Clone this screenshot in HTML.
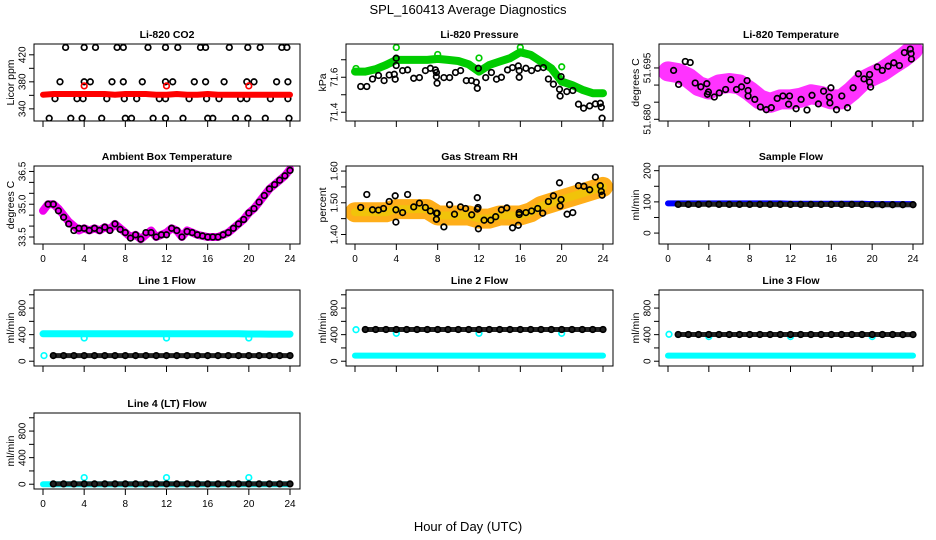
<!DOCTYPE html>
<html><head><meta charset="utf-8"><style>
html,body{margin:0;padding:0;background:#fff;}
svg{display:block;font-family:"Liberation Sans",sans-serif;}
</style></head><body>
<svg id="chart" width="936" height="540" viewBox="0 0 936 540" xmlns="http://www.w3.org/2000/svg">
<rect x="0" y="0" width="936" height="540" fill="#fff"/>
<text x="468" y="14" text-anchor="middle" font-size="13">SPL_160413  Average Diagnostics</text>
<text x="468" y="531" text-anchor="middle" font-size="13">Hour of Day (UTC)</text>
</svg>
<script>
// ---------- data ----------
const HOURS = [0,1,2,3,4,5,6,7,8,9,10,11,12,13,14,15,16,17,18,19,20,21,22,23,24];
const XTICKS = [0,4,8,12,16,20,24];

// CO2
const co2Red = [361,362,362,362,362,362,362,361,362,362,362,361,361,362,361,361,362,361,361,361,361,361,361,361,361];
const co2RedOutHours = [4,12,20];
const co2RedOutVals = [374,374,374];
const co2BlackHours = [2.2,4.0,5.1,7.2,7.8,10.2,11.9,13.1,15.3,15.8,18.1,19.9,21.1,23.2,23.7,
 1.65,4.0,4.6,6.7,7.8,9.65,11.9,12.6,14.7,15.8,17.6,19.8,20.5,22.7,23.8,
 1.17,3.3,3.9,6.2,7.9,9.1,11.3,11.9,14.2,15.9,17.1,19.2,19.8,22.1,23.8,
 0.6,2.7,3.8,5.7,8.0,8.6,10.7,11.9,13.6,16.0,16.5,18.7,19.9,21.6,23.9];
const co2BlackVals = [431,431,431,431,431,431,431,431,431,431,431,431,431,431,431,
 380,380,380,380,380,380,380,380,380,380,380,380,380,380,380,
 355,355,355,355,355,355,355,355,355,355,355,355,355,355,355,
 326,326,326,326,326,326,326,326,326,326,326,326,326,326,326];

// Pressure
const presGreen = [71.632,71.632,71.646,71.670,71.699,71.699,71.699,71.699,71.705,71.699,71.693,71.674,71.632,71.670,71.690,71.709,71.743,71.728,71.690,71.651,71.575,71.556,71.528,71.509,71.509];
const presGreenOutHours = [0.1,4,8,12,16,20,23.9];
const presGreenOutVals = [71.65,71.77,71.73,71.71,71.77,71.66,71.51];
const presBlackHours = [0.55,1.14,1.69,2.27,2.82,3.31,3.80,3.89,3.99,3.99,4.61,5.09,5.68,6.23,6.81,7.30,7.78,7.88,7.88,7.95,8.60,9.15,9.73,10.22,10.77,11.26,11.74,11.84,11.94,12.65,13.20,13.69,14.17,14.76,15.24,15.80,15.89,15.89,16.54,17.09,17.68,18.23,18.72,19.20,19.79,19.85,19.95,20.50,21.08,21.63,22.12,22.70,23.26,23.74,23.84,23.91];
const presBlackVals = [71.547,71.547,71.590,71.610,71.581,71.613,71.617,71.589,71.667,71.709,71.638,71.642,71.594,71.598,71.638,71.651,71.642,71.627,71.604,71.566,71.598,71.598,71.627,71.638,71.581,71.581,71.571,71.537,71.651,71.598,71.627,71.589,71.600,71.642,71.655,71.665,71.638,71.600,71.651,71.638,71.651,71.655,71.590,71.560,71.531,71.493,71.604,71.518,71.524,71.446,71.423,71.436,71.448,71.451,71.429,71.366];

// Li-820 temperature
const tempMag = [51.6940,51.6935,51.6921,51.6897,51.6887,51.6902,51.6906,51.6902,51.6882,51.6858,51.6848,51.6858,51.6858,51.6863,51.6873,51.6868,51.6858,51.6858,51.6882,51.6911,51.6926,51.6940,51.6960,51.6979,51.7003];
const tempBlackHours = [0.55,1.04,1.69,2.17,2.66,3.21,3.80,3.86,3.96,4.54,5.03,5.64,6.16,6.71,7.20,7.75,7.85,7.85,8.50,9.05,9.63,10.12,10.70,11.26,11.81,11.90,12.55,13.04,13.62,14.11,14.73,15.24,15.80,15.86,15.96,16.51,17.03,17.58,18.13,18.65,19.20,19.75,19.75,19.85,20.50,20.99,21.57,22.12,22.67,23.16,23.74,23.81,23.84];
const tempBlackVals = [51.6943,51.6902,51.6969,51.6966,51.6906,51.6895,51.6904,51.6873,51.6880,51.6865,51.6877,51.6887,51.6916,51.6887,51.6895,51.6913,51.6884,51.6868,51.6858,51.6836,51.6828,51.6834,51.6861,51.6868,51.6844,51.6868,51.6831,51.6858,51.6827,51.6870,51.6845,51.6882,51.6865,51.6848,51.6892,51.6828,51.6868,51.6834,51.6892,51.6933,51.6918,51.6931,51.6909,51.6894,51.6953,51.6943,51.6955,51.6965,51.6957,51.6995,51.7005,51.6992,51.6976];

// Ambient box temperature (half-hourly)
const ambHours = [0,0.5,1,1.5,2,2.5,3,3.5,4,4.5,5,5.5,6,6.5,7,7.5,8,8.5,9,9.5,10,10.5,11,11.5,12,12.5,13,13.5,14,14.5,15,15.5,16,16.5,17,17.5,18,18.5,19,19.5,20,20.5,21,21.5,22,22.5,23,23.5,24];
const ambMag = [34.7,35.0,35.0,34.8,34.5,34.2,34.0,33.8,33.9,33.8,33.9,33.8,33.95,33.85,34.1,33.9,33.7,33.5,33.6,33.4,33.6,33.8,33.5,33.6,33.7,33.9,33.8,33.5,33.8,33.7,33.6,33.55,33.5,33.5,33.5,33.6,33.7,33.9,34.1,34.3,34.6,34.8,35.1,35.4,35.7,35.9,36.1,36.3,36.6];
const ambBlack = [34.7,35.0,35.0,34.7,34.4,34.1,33.8,33.9,33.9,33.8,33.9,33.8,33.95,33.8,34.1,33.85,33.7,33.45,33.6,33.4,33.7,33.7,33.5,33.6,33.6,33.9,33.8,33.5,33.75,33.7,33.6,33.55,33.5,33.5,33.5,33.6,33.7,33.9,34.1,34.3,34.6,34.8,35.1,35.4,35.7,35.9,36.1,36.3,36.55];

// Gas stream RH
const rhOrange = [1.47,1.47,1.47,1.47,1.48,1.48,1.48,1.48,1.46,1.46,1.46,1.46,1.45,1.45,1.46,1.46,1.46,1.47,1.49,1.50,1.51,1.52,1.53,1.54,1.55];
const rhBlackHours = [0.55,1.14,1.69,2.27,2.76,3.31,3.89,3.96,3.96,4.61,5.09,5.68,6.23,6.81,7.30,7.88,7.88,7.95,8.60,9.15,9.63,10.22,10.70,11.29,11.84,11.84,11.90,11.94,12.49,13.14,13.62,14.17,14.69,15.24,15.80,15.89,15.89,16.54,17.09,17.68,18.16,18.72,19.20,19.79,19.85,19.95,20.53,21.08,21.63,22.15,22.71,23.26,23.74,23.84,23.91];
const rhBlackVals = [1.485,1.526,1.478,1.477,1.482,1.504,1.522,1.478,1.439,1.469,1.526,1.487,1.499,1.485,1.474,1.467,1.448,1.467,1.424,1.494,1.464,1.487,1.482,1.462,1.516,1.480,1.485,1.418,1.445,1.445,1.456,1.478,1.484,1.421,1.429,1.469,1.463,1.469,1.474,1.482,1.467,1.504,1.522,1.563,1.490,1.510,1.464,1.469,1.554,1.552,1.541,1.581,1.554,1.536,1.524];

// Flows (hourly)
const sampleBlue = [95,95,95,95,95,95,95,95,95,95,95,95,94,94,94,94,94,94,94,94,93,93,93,93,93];
const sampleBlack = [92,92,92,92,93,92,92,92,92,92,92,92,92,92,92,92,92,92,92,92,91,91,91,91,91];
const line1Cyan = [412,412,412,412,412,412,412,412,412,412,412,412,412,412,412,412,412,412,412,412,410,410,408,408,408];
const line1Black = [85,85,85,85,85,85,85,85,85,85,85,85,85,85,85,85,85,85,85,85,85,85,85,85,85];
const line2Cyan = [85,85,85,85,85,85,85,85,85,85,85,85,85,85,85,85,85,85,85,85,85,85,85,85,85];
const line2Black = [480,478,478,478,478,478,478,478,478,478,478,478,478,478,478,478,478,478,478,478,478,478,478,478,478];
const line3Cyan = [85,85,85,85,85,85,85,85,85,85,85,85,85,85,85,85,85,85,85,85,85,85,85,85,85];
const line3Black = [405,402,402,402,402,402,402,402,402,402,402,402,402,402,402,402,402,402,402,402,402,402,402,400,400];
const line4Cyan = [0,0,0,0,0,0,0,0,0,0,0,0,0,0,0,0,0,0,0,0,0,0,0,0,0];
const line4Black = [5,5,5,5,5,5,5,5,5,5,5,5,5,5,5,5,5,5,5,5,5,5,5,5,5];
const flowOutHours = [4,12,20];
const line1CyanOut = [350,350,350];
const line2CyanOut = [420,420,420];
const line3CyanOut = [370,370,370];
const line4CyanOut = [100,100,100];
const flowStartHour = [0.1];
const line1CyanStartVal = [85];
const line2CyanStartVal = [475];
const line3CyanStartVal = [405];

// ---------- geometry ----------
const NS = 'http://www.w3.org/2000/svg';
const svg = document.getElementById('chart');
const COLS = [[34,300],[346,613],[659,923]];
const ROWS = [[44,121],[166,244],[290,366],[413,489]];
const YTITLE_X = [11,323,636];

function mk(tag, attrs, parent){
  const el = document.createElementNS(NS, tag);
  for (const k in attrs) el.setAttribute(k, attrs[k]);
  (parent||svg).appendChild(el);
  return el;
}

function panel(cfg){
  const [L,R] = COLS[cfg.col], [T,B] = ROWS[cfg.row];
  const g = mk('g', {});
  
  
  const x0 = L+9, x1 = R-10;
  const xs = h => x0 + (h/24)*(x1-x0);
  const ys = v => B - (v-cfg.ylim[0])/(cfg.ylim[1]-cfg.ylim[0])*(B-T);
  const t = mk('text', {x:(L+R)/2, y:T-6, 'text-anchor':'middle', 'font-size':10.5, 'font-weight':'bold'}, g);
  
  
  t.textContent = cfg.title;
  const yt = mk('text', {x:YTITLE_X[cfg.col], y:(T+B)/2, 'text-anchor':'middle', 'font-size':10.5, transform:`rotate(-90 ${YTITLE_X[cfg.col]} ${(T+B)/2})`, 'dominant-baseline':'central'}, g);
  
  
  yt.textContent = cfg.ylab;
  const cid = 'clip'+cfg.name;
  const cp = mk('clipPath', {id:cid}, g);
  mk('rect', {x:L, y:T, width:R-L, height:B-T}, cp);
  const plot = mk('g', {'clip-path':`url(#${cid})`}, g);
  
  
  cfg.layers.forEach(ly => {
    if (ly.type === 'band'){
      const d = ly.h.map((h,i)=>(i?'L':'M')+xs(h).toFixed(1)+' '+ys(ly.v[i]).toFixed(1)).join(' ');
      const p = mk('path', {d, fill:'none', stroke:ly.color, 'stroke-width':ly.w, 'stroke-linejoin':'round', 'stroke-linecap':'round', opacity:ly.op||1}, plot);
      
      
    } else {
      ly.h.forEach((h,i) => {
        const c = mk('circle', {cx:xs(h).toFixed(1), cy:ys(ly.v[i]).toFixed(1), r:ly.r||2.8, fill:'none', stroke:ly.color, 'stroke-width':ly.sw||1.7}, plot);
        
        
      });
    }
  });
  const bx = mk('rect', {x:L, y:T, width:R-L, height:B-T, fill:'none', stroke:'#000', 'stroke-width':1}, g);
  
  
  XTICKS.forEach(h => {
    const tk = mk('line', {x1:xs(h), x2:xs(h), y1:B, y2:B+6, stroke:'#000'}, g);
    
    
    if (cfg.row === 1 || cfg.row === 3){
      const lb = mk('text', {x:xs(h), y:B+18, 'text-anchor':'middle', 'font-size':10}, g);
      
      
      lb.textContent = h;
    }
  });
  mk('line', {x1:L, x2:L, y1:ys(cfg.ticks[0]), y2:ys(cfg.ticks[cfg.ticks.length-1]), stroke:'#000'}, g);
  cfg.ticks.forEach((v,i) => {
    const y = ys(v);
    const tk = mk('line', {x1:L-5, x2:L, y1:y, y2:y, stroke:'#000'}, g);
    
    
    if (cfg.labels[i]){
      const lx = L-11;
      const lb = mk('text', {x:lx, y:y, 'text-anchor':'middle', 'font-size':10, 'dominant-baseline':'central', transform:`rotate(-90 ${lx} ${y})`}, g);
      
      
      lb.textContent = cfg.labels[i];
    }
  });
}

const FLOW_TICKS = [0,200,400,600,800,1000];
const FLOW_LABELS = ['0','','400','','800',''];

panel({name:'co2-panel', col:0, row:0, title:'Li-820 CO2', ylab:'Licor ppm', ylim:[322,436],
  ticks:[340,360,380,400,420], labels:['340','','380','','420'],
  layers:[
    {type:'pts', h:co2BlackHours, v:co2BlackVals, color:'#000', name:'co2-avg-point'},
    {type:'band', h:HOURS, v:co2Red, color:'#ff0000', w:6, name:'co2-raw-band'},
    {type:'pts', h:co2RedOutHours, v:co2RedOutVals, color:'#ff0000', name:'co2-raw-outlier'}
  ]});

panel({name:'pressure-panel', col:1, row:0, title:'Li-820 Pressure', ylab:'kPa', ylim:[71.35,71.79],
  ticks:[71.4,71.5,71.6,71.7], labels:['71.4','','71.6',''],
  layers:[
    {type:'band', h:HOURS, v:presGreen, color:'#00cc00', w:8, name:'pressure-raw-band'},
    {type:'pts', h:presGreenOutHours, v:presGreenOutVals, color:'#00cc00', name:'pressure-raw-outlier'},
    {type:'pts', h:presBlackHours, v:presBlackVals, color:'#000', name:'pressure-avg-point'}
  ]});

panel({name:'temperature-panel', col:2, row:0, title:'Li-820 Temperature', ylab:'degrees C', ylim:[51.6795,51.702],
  ticks:[51.680,51.685,51.690,51.695], labels:['51.680','','','51.695'],
  layers:[
    {type:'band', h:HOURS, v:tempMag, color:'#ff00ff', w:20, op:0.8, name:'temperature-raw-band'},
    {type:'pts', h:tempBlackHours, v:tempBlackVals, color:'#000', name:'temperature-avg-point'}
  ]});

panel({name:'ambient-panel', col:0, row:1, title:'Ambient Box Temperature', ylab:'degrees C', ylim:[33.18,36.75],
  ticks:[33.5,34.0,34.5,35.0,35.5,36.0,36.5], labels:['33.5','','','35.0','','','36.5'],
  layers:[
    {type:'band', h:ambHours, v:ambMag, color:'#ee00ee', w:8, name:'ambient-raw-band'},
    {type:'pts', h:ambHours.slice(1), v:ambBlack.slice(1), color:'#000', name:'ambient-avg-point'}
  ]});

panel({name:'rh-panel', col:1, row:1, title:'Gas Stream RH', ylab:'percent', ylim:[1.37,1.616],
  ticks:[1.40,1.45,1.50,1.55,1.60], labels:['1.40','','1.50','','1.60'],
  layers:[
    {type:'band', h:HOURS, v:rhOrange, color:'#ffa500', w:20, op:0.9, name:'rh-raw-band'},
    {type:'band', h:HOURS, v:rhOrange, color:'#e8d000', w:8, op:0.6, name:'rh-raw-core'},
    {type:'pts', h:rhBlackHours, v:rhBlackVals, color:'#000', name:'rh-avg-point'}
  ]});

panel({name:'sample-flow-panel', col:2, row:1, title:'Sample Flow', ylab:'ml/min', ylim:[-35,215],
  ticks:[0,50,100,150,200], labels:['0','','100','','200'],
  layers:[
    {type:'band', h:HOURS, v:sampleBlue, color:'#0000ff', w:6, name:'sample-flow-raw-band'},
    {type:'band', h:HOURS.slice(1), v:sampleBlack.slice(1), color:'#222', w:5, name:'sample-flow-avg-band'},
    {type:'pts', h:HOURS.slice(1), v:sampleBlack.slice(1), color:'#000', name:'sample-flow-avg-point'}
  ]});

panel({name:'line1-flow-panel', col:0, row:2, title:'Line 1 Flow', ylab:'ml/min', ylim:[-72,1072],
  ticks:FLOW_TICKS, labels:FLOW_LABELS,
  layers:[
    {type:'band', h:HOURS, v:line1Cyan, color:'#00ffff', w:7, name:'line1-raw-band'},
    {type:'pts', h:flowOutHours, v:line1CyanOut, color:'#00ffff', name:'line1-raw-outlier'},
    {type:'pts', h:flowStartHour, v:line1CyanStartVal, color:'#00ffff', name:'line1-raw-start'},
    {type:'band', h:HOURS.slice(1), v:line1Black.slice(1), color:'#222', w:5, name:'line1-avg-band'},
    {type:'pts', h:HOURS.slice(1), v:line1Black.slice(1), color:'#000', name:'line1-avg-point'}
  ]});

panel({name:'line2-flow-panel', col:1, row:2, title:'Line 2 Flow', ylab:'ml/min', ylim:[-72,1072],
  ticks:FLOW_TICKS, labels:FLOW_LABELS,
  layers:[
    {type:'band', h:HOURS, v:line2Cyan, color:'#00ffff', w:6, name:'line2-raw-band'},
    {type:'pts', h:flowStartHour, v:line2CyanStartVal, color:'#00ffff', name:'line2-raw-start'},
    {type:'pts', h:flowOutHours, v:line2CyanOut, color:'#00ffff', name:'line2-raw-outlier'},
    {type:'band', h:HOURS.slice(1), v:line2Black.slice(1), color:'#222', w:5, name:'line2-avg-band'},
    {type:'pts', h:HOURS.slice(1), v:line2Black.slice(1), color:'#000', name:'line2-avg-point'}
  ]});

panel({name:'line3-flow-panel', col:2, row:2, title:'Line 3 Flow', ylab:'ml/min', ylim:[-72,1072],
  ticks:FLOW_TICKS, labels:FLOW_LABELS,
  layers:[
    {type:'band', h:HOURS, v:line3Cyan, color:'#00ffff', w:6, name:'line3-raw-band'},
    {type:'pts', h:flowStartHour, v:line3CyanStartVal, color:'#00ffff', name:'line3-raw-start'},
    {type:'pts', h:flowOutHours, v:line3CyanOut, color:'#00ffff', name:'line3-raw-outlier'},
    {type:'band', h:HOURS.slice(1), v:line3Black.slice(1), color:'#222', w:5, name:'line3-avg-band'},
    {type:'pts', h:HOURS.slice(1), v:line3Black.slice(1), color:'#000', name:'line3-avg-point'}
  ]});

panel({name:'line4-flow-panel', col:0, row:3, title:'Line 4 (LT) Flow', ylab:'ml/min', ylim:[-72,1072],
  ticks:FLOW_TICKS, labels:FLOW_LABELS,
  layers:[
    {type:'band', h:HOURS, v:line4Cyan, color:'#00ffff', w:6, name:'line4-raw-band'},
    {type:'pts', h:flowOutHours, v:line4CyanOut, color:'#00ffff', name:'line4-raw-outlier'},
    {type:'band', h:HOURS.slice(1), v:line4Black.slice(1), color:'#222', w:5, name:'line4-avg-band'},
    {type:'pts', h:HOURS.slice(1), v:line4Black.slice(1), color:'#000', name:'line4-avg-point'}
  ]});
</script>
</body></html>
